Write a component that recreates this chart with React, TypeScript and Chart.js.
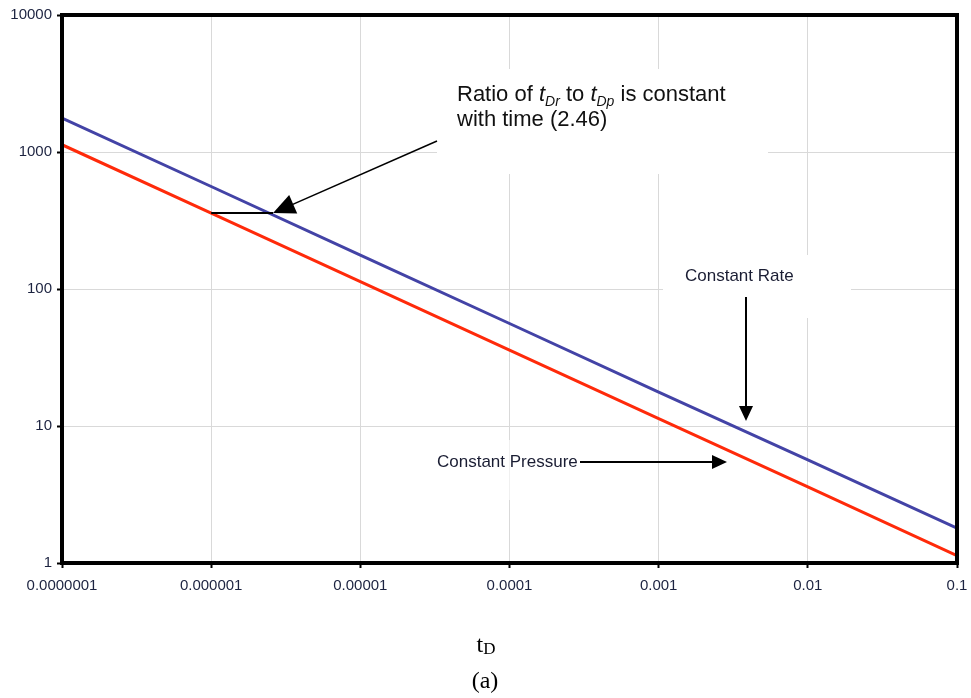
import React, { useEffect, useRef } from "react";
import { Chart, registerables } from "chart.js";

Chart.register(...registerables);

const tValues = [1e-7, 1e-6, 1e-5, 1e-4, 1e-3, 1e-2, 1e-1];
const constantRate = [1770, 560, 177, 56, 17.7, 5.65, 1.8];
const constantPressure = [1130, 358, 113, 35.8, 11.3, 3.59, 1.13];
const xTickValues = [1e-7, 1e-6, 1e-5, 1e-4, 1e-3, 1e-2, 1e-1];
const xTickLabels = ["0.0000001", "0.000001", "0.00001", "0.0001", "0.001", "0.01", "0.1"];
const yTickValues = [1, 10, 100, 1000, 10000];
const yTickLabels = ["1", "10", "100", "1000", "10000"];

const SANS = '"Liberation Sans", Arial, sans-serif';
const SERIF = '"Liberation Serif", "Times New Roman", serif';

function arrowHead(ctx: CanvasRenderingContext2D, tipX: number, tipY: number, fromX: number, fromY: number, len: number, half: number) {
  const ang = Math.atan2(tipY - fromY, tipX - fromX);
  const bx = tipX - len * Math.cos(ang);
  const by = tipY - len * Math.sin(ang);
  ctx.beginPath();
  ctx.moveTo(tipX, tipY);
  ctx.lineTo(bx + half * Math.sin(ang), by - half * Math.cos(ang));
  ctx.lineTo(bx - half * Math.sin(ang), by + half * Math.cos(ang));
  ctx.closePath();
  ctx.fill();
}

const decorPlugin = {
  id: "decor",
  beforeDatasetsDraw(chart: any) {
    const ctx = chart.ctx;
    ctx.save();
    ctx.fillStyle = "#ffffff";
    ctx.fillRect(437, 69, 331, 105);
    ctx.fillRect(663, 255, 188, 63);
    ctx.fillStyle = "rgba(255,255,255,0.6)";
    ctx.fillRect(432, 440, 150, 60);
    ctx.restore();
  },
  afterDraw(chart: any) {
    const ctx = chart.ctx;
    const a = chart.chartArea;
    const xs = chart.scales.x;
    const ys = chart.scales.y;
    ctx.save();
    // frame
    ctx.strokeStyle = "#000";
    ctx.lineWidth = 4;
    ctx.strokeRect(a.left, a.top, a.right - a.left, a.bottom - a.top);

    ctx.fillStyle = "#000";
    ctx.strokeStyle = "#000";

    // ratio marker line
    const yRef = ys.getPixelForValue(358);
    const x0 = xs.getPixelForValue(1e-6);
    const xTip = xs.getPixelForValue(2.6e-6);
    ctx.lineWidth = 2;
    ctx.beginPath();
    ctx.moveTo(x0, yRef);
    ctx.lineTo(xTip, yRef);
    ctx.stroke();
    // ratio arrow
    ctx.lineWidth = 1.5;
    ctx.beginPath();
    ctx.moveTo(437, 141);
    ctx.lineTo(xTip + 10, yRef - 4.5);
    ctx.stroke();
    arrowHead(ctx, xTip, yRef, 437, 141, 22, 10);

    // constant rate arrow
    ctx.lineWidth = 2;
    ctx.beginPath();
    ctx.moveTo(746, 297);
    ctx.lineTo(746, 408);
    ctx.stroke();
    arrowHead(ctx, 746, 421, 746, 297, 15, 7);

    // constant pressure arrow
    ctx.beginPath();
    ctx.moveTo(580, 462);
    ctx.lineTo(714, 462);
    ctx.stroke();
    arrowHead(ctx, 727, 462, 580, 462, 15, 7);

    // texts
    ctx.fillStyle = "#1a1d33";
    ctx.textBaseline = "middle";
    ctx.textAlign = "left";
    ctx.font = `17px ${SANS}`;
    ctx.fillText("Constant Rate", 685, 276);
    ctx.fillText("Constant Pressure", 437, 462);

    // ratio text with subscripts
    ctx.fillStyle = "#111";
    ctx.textBaseline = "alphabetic";
    const big = `22px ${SANS}`;
    const bigI = `italic 22px ${SANS}`;
    const sub = `italic 14px ${SANS}`;
    const parts: [string, string, number][] = [
      ["Ratio of ", big, 0],
      ["t", bigI, 0],
      ["Dr", sub, 5],
      [" to ", big, 0],
      ["t", bigI, 0],
      ["Dp", sub, 5],
      [" is constant", big, 0],
    ];
    let cx = 457;
    for (const [txt, f, dy] of parts) {
      ctx.font = f;
      ctx.fillText(txt, cx, 101 + dy);
      cx += ctx.measureText(txt).width;
    }
    ctx.font = big;
    ctx.fillText("with time (2.46)", 457, 126);

    // axis title and caption
    ctx.fillStyle = "#000";
    ctx.font = `24px ${SERIF}`;
    const tw = ctx.measureText("t").width;
    ctx.font = `17px ${SERIF}`;
    const dw = ctx.measureText("D").width;
    const start = 486 - (tw + dw) / 2;
    ctx.font = `24px ${SERIF}`;
    ctx.fillText("t", start, 652);
    ctx.font = `17px ${SERIF}`;
    ctx.fillText("D", start + tw, 654);
    ctx.font = `24px ${SERIF}`;
    ctx.textAlign = "center";
    ctx.fillText("(a)", 485, 688);
    ctx.restore();
  },
};

export default function App() {
  const ref = useRef<HTMLCanvasElement | null>(null);
  useEffect(() => {
    if (!ref.current) return;
    const chart = new Chart(ref.current, {
      type: "scatter",
      data: {
        datasets: [
          {
            label: "Constant Rate",
            data: tValues.map((t, i) => ({ x: t, y: constantRate[i] })),
            showLine: true,
            borderColor: "#4343a6",
            borderWidth: 3,
            pointRadius: 0,
          },
          {
            label: "Constant Pressure",
            data: tValues.map((t, i) => ({ x: t, y: constantPressure[i] })),
            showLine: true,
            borderColor: "#ff2a0a",
            borderWidth: 3,
            pointRadius: 0,
          },
        ],
      },
      options: {
        animation: false,
        responsive: false,
        layout: { padding: { left: 0, top: 15, right: 14, bottom: 100 } },
        plugins: { legend: { display: false }, tooltip: { enabled: false } },
        scales: {
          x: {
            type: "logarithmic",
            min: 1e-7,
            max: 0.1,
            afterBuildTicks: (s: any) => {
              s.ticks = xTickValues.map((v) => ({ value: v, major: true }));
            },
            afterFit: (s: any) => {
              s.height = 35;
              s.paddingLeft = 0;
              s.paddingRight = 0;
            },
            ticks: {
              autoSkip: false,
              maxRotation: 0,
              padding: 9,
              color: "#1c2340",
              font: { family: SANS, size: 15 },
              callback: (_v: any, i: number) => xTickLabels[i],
            },
            grid: { color: "#d9d9d9", lineWidth: 1, tickColor: "#000", tickWidth: 2, tickLength: 5 },
            border: { display: false },
          },
          y: {
            type: "logarithmic",
            min: 1,
            max: 10000,
            afterBuildTicks: (s: any) => {
              s.ticks = yTickValues.map((v) => ({ value: v, major: true }));
            },
            afterFit: (s: any) => {
              s.width = 62;
              s.paddingTop = 0;
              s.paddingBottom = 0;
            },
            ticks: {
              autoSkip: false,
              padding: 5,
              color: "#1c2340",
              font: { family: SANS, size: 15 },
              callback: (_v: any, i: number) => yTickLabels[i],
            },
            grid: { color: "#d9d9d9", lineWidth: 1, tickColor: "#000", tickWidth: 2, tickLength: 5 },
            border: { display: false },
          },
        },
      },
      plugins: [decorPlugin],
    } as any);
    return () => chart.destroy();
  }, []);
  return (
    <div style={{ position: "absolute", left: 0, top: 0, width: 971, height: 698, background: "#fff" }}>
      <canvas ref={ref} width={971} height={698} style={{ width: 971, height: 698, display: "block" }} />
    </div>
  );
}
